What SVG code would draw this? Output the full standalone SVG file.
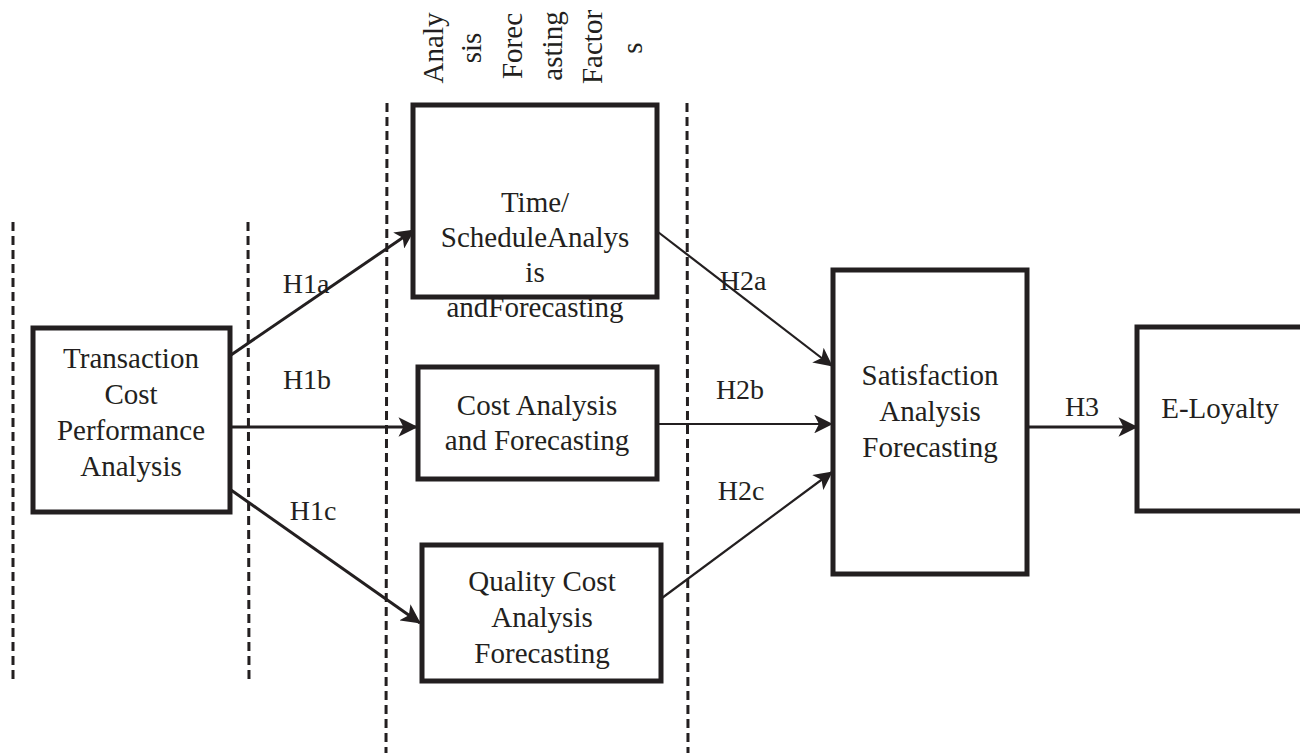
<svg xmlns="http://www.w3.org/2000/svg" width="1300" height="753" viewBox="0 0 1300 753">
  <defs>
    <marker id="arrow" viewBox="0 0 10 10" refX="9.5" refY="5" markerWidth="6.5" markerHeight="6.5" markerUnits="strokeWidth" orient="auto">
      <path d="M0,0 L10,5 L0,10 L2.5,5 z" fill="#231f20"/>
    </marker>
    <marker id="arrowThin" viewBox="0 0 10 10" refX="9.5" refY="5" markerWidth="8.5" markerHeight="8.5" markerUnits="strokeWidth" orient="auto">
      <path d="M0,0 L10,5 L0,10 L2.5,5 z" fill="#231f20"/>
    </marker>
  </defs>
  <style>
    .box { fill: #ffffff; stroke: #231f20; stroke-width: 5; }
    .lbl { font-family: "Liberation Serif", "Times New Roman", serif; font-size: 29px; fill: #231f20; text-anchor: middle; }
    .hyp { font-family: "Liberation Serif", "Times New Roman", serif; font-size: 28px; fill: #231f20; text-anchor: middle; }
    .divider { fill: none; stroke: #231f20; stroke-width: 3; stroke-dasharray: 9 5; }
    .link { fill: none; stroke: #231f20; stroke-width: 3; marker-end: url(#arrow); }
    .link-thin { fill: none; stroke: #231f20; stroke-width: 2.2; marker-end: url(#arrowThin); }
  </style>

  <rect width="1300" height="753" fill="#ffffff"/>

  <!-- stage dividers -->
  <g id="dividers">
    <line class="divider" x1="13" y1="222" x2="13" y2="683"/>
    <line class="divider" x1="248" y1="222" x2="249" y2="683"/>
    <line class="divider" x1="387" y1="103" x2="386" y2="753"/>
    <line class="divider" x1="687" y1="103" x2="688" y2="753"/>
  </g>

  <!-- column heading, rotated -->
  <g id="heading" class="lbl">
    <text transform="translate(443,48) rotate(-90)">Analy</text>
    <text transform="translate(481,48) rotate(-90)">sis</text>
    <text transform="translate(522,46) rotate(-90)">Forec</text>
    <text transform="translate(562,46) rotate(-90)">asting</text>
    <text transform="translate(602,47) rotate(-90)">Factor</text>
    <text transform="translate(642,48) rotate(-90)">s</text>
  </g>

  <!-- connectors -->
  <g id="connectors">
    <line class="link" x1="231" y1="355" x2="414" y2="230"/>
    <line class="link" x1="231" y1="427" x2="417" y2="427"/>
    <line class="link" x1="231" y1="490" x2="420" y2="623"/>
    <line class="link-thin" x1="658" y1="232" x2="832" y2="366"/>
    <line class="link-thin" x1="658" y1="424" x2="832" y2="424"/>
    <line class="link-thin" x1="662" y1="598" x2="832" y2="472"/>
    <line class="link" x1="1028" y1="427" x2="1137" y2="427"/>
    <g class="hyp">
      <text x="306" y="293">H1a</text>
      <text x="307" y="389">H1b</text>
      <text x="313" y="520">H1c</text>
      <text x="743" y="290">H2a</text>
      <text x="740" y="399">H2b</text>
      <text x="741" y="500">H2c</text>
      <text x="1082" y="416">H3</text>
    </g>
  </g>

  <g id="transaction-cost">
    <rect class="box" x="33" y="328" width="197" height="184"/>
    <text class="lbl" x="131" y="368">Transaction</text>
    <text class="lbl" x="131" y="404">Cost</text>
    <text class="lbl" x="131" y="440">Performance</text>
    <text class="lbl" x="131" y="476">Analysis</text>
  </g>

  <g id="time-schedule">
    <rect class="box" x="413" y="105" width="244" height="192"/>
    <text class="lbl" x="535" y="212">Time/</text>
    <text class="lbl" x="535" y="247">ScheduleAnalys</text>
    <text class="lbl" x="535" y="282">is</text>
    <text class="lbl" x="535" y="317">andForecasting</text>
  </g>

  <g id="cost-analysis">
    <rect class="box" x="418" y="367" width="239" height="112"/>
    <text class="lbl" x="537" y="415">Cost Analysis</text>
    <text class="lbl" x="537" y="450">and Forecasting</text>
  </g>

  <g id="quality-cost">
    <rect class="box" x="422" y="545" width="239" height="136"/>
    <text class="lbl" x="542" y="591">Quality Cost</text>
    <text class="lbl" x="542" y="627">Analysis</text>
    <text class="lbl" x="542" y="663">Forecasting</text>
  </g>

  <g id="satisfaction">
    <rect class="box" x="833" y="270" width="194" height="304"/>
    <text class="lbl" x="930" y="385">Satisfaction</text>
    <text class="lbl" x="930" y="421">Analysis</text>
    <text class="lbl" x="930" y="457">Forecasting</text>
  </g>

  <g id="e-loyalty">
    <rect class="box" x="1137" y="327" width="180" height="184"/>
    <text class="lbl" x="1220" y="418">E-Loyalty</text>
  </g>
</svg>
